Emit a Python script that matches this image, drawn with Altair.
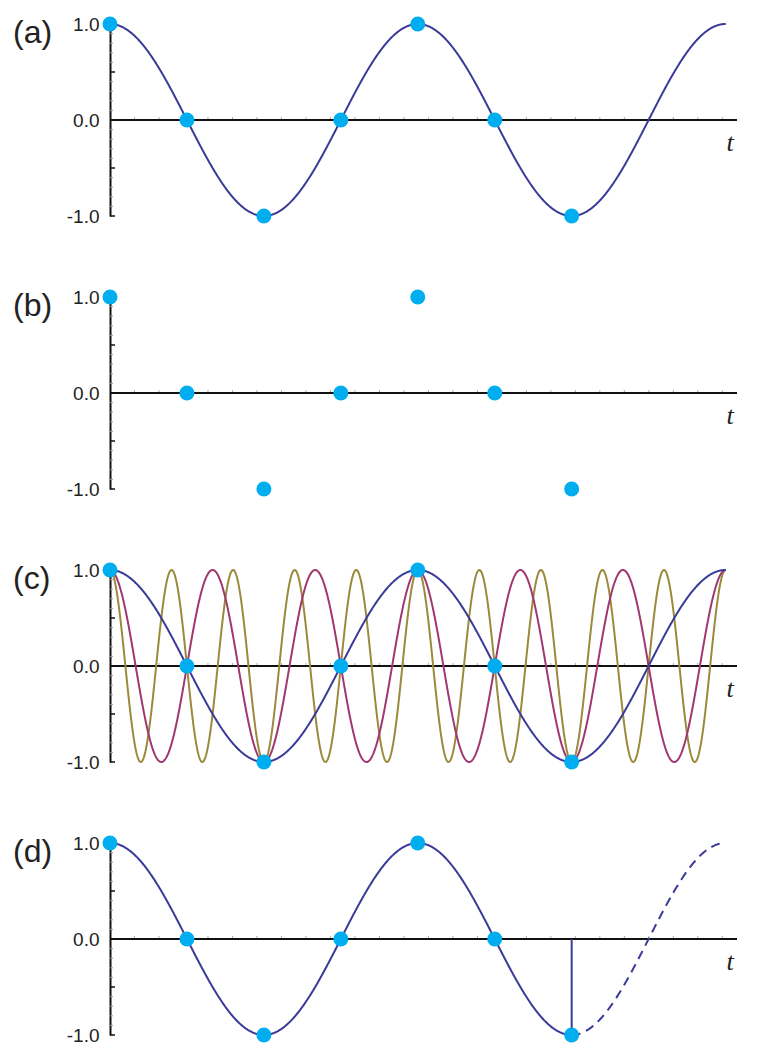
import math
import altair as alt
import pandas as pd

# ---------------- data ----------------
panel_labels = ["(a)", "(b)", "(c)", "(d)"]
sample_index = [0, 1, 2, 3, 4, 5, 6]
sample_value = [1.0, 0.0, -1.0, 0.0, 1.0, 0.0, -1.0]
sample_spacing = math.pi / 2          # radians between samples
curve_freqs = [1, 3, 5]               # original + two aliases
curve_colors = ["#3a3a98", "#a0386f", "#9a8a3c"]
curve_end = 4 * math.pi               # curves span two periods
cut_index = 6                         # panel (d): reconstruction stops here
x_axis_end = 12.8
y_label_values = [-1.0, 0.0, 1.0]
y_major_ticks = [-1.0, -0.5, 0.0, 0.5, 1.0]
y_minor_ticks = [-0.9, -0.8, -0.7, -0.6, -0.4, -0.3, -0.2, -0.1,
                 0.1, 0.2, 0.3, 0.4, 0.6, 0.7, 0.8, 0.9]
x_minor_ticks = [0.5 * k for k in range(1, 26)]

FONT = "Liberation Sans"
DOT = "#00aeef"
W, H = 627, 192

samples = pd.DataFrame({"x": [i * sample_spacing for i in sample_index],
                        "y": sample_value})

X = alt.X("x:Q", scale=alt.Scale(domain=[0, x_axis_end], nice=False, zero=False), axis=None)
Y = alt.Y("y:Q", scale=alt.Scale(domain=[-1, 1], nice=False, zero=False),
          axis=alt.Axis(values=y_label_values, ticks=False, grid=False, domain=True,
                        domainColor="#111", domainWidth=2, labelPadding=11,
                        labelFontSize=19, labelFont=FONT, labelColor="#222",
                        title=None,
                        labelExpr="datum.value < 0 ? '-' + format(-datum.value, '.1f') : format(datum.value, '.1f')"))


def axes_layers():
    xline = alt.Chart(pd.DataFrame({"x": [0.0], "x2": [x_axis_end], "y": [0.0]})).mark_rule(
        color="#111", strokeWidth=2).encode(x=X, x2="x2:Q", y=Y)
    xticks = alt.Chart(pd.DataFrame({"x": x_minor_ticks, "y": [0.0] * len(x_minor_ticks)})).mark_rule(
        color="#aaa", strokeWidth=1, yOffset=-3, y2Offset=-1).encode(x=X, y=Y, y2="y:Q")
    major = alt.Chart(pd.DataFrame({"y": y_major_ticks})).mark_rule(
        color="#111", strokeWidth=1.5).encode(x=alt.value(0), x2=alt.value(5), y=Y)
    minor = alt.Chart(pd.DataFrame({"y": y_minor_ticks})).mark_rule(
        color="#999", strokeWidth=1).encode(x=alt.value(0), x2=alt.value(3), y=Y)
    tlab = alt.Chart(pd.DataFrame({"x": [12.66], "y": [0.0], "t": ["t"]})).mark_text(
        font="Liberation Serif", fontStyle="italic", fontSize=26, color="#222",
        baseline="middle", align="center", dy=23).encode(x=X, y=Y, text="t:N")
    return [xline, xticks, major, minor, tlab]


def curve(freq, color, start=0.0, stop=curve_end, dash=None):
    kw = dict(color=color, strokeWidth=2, clip=False)
    if dash:
        kw["strokeDash"] = dash
    return alt.Chart(alt.sequence(start, stop + 0.005, 0.01, as_="x")).transform_calculate(
        y=f"cos({freq} * datum.x)").mark_line(**kw).encode(x=X, y=Y)


def dots():
    return alt.Chart(samples).mark_circle(size=225, color=DOT, opacity=1).encode(x=X, y=Y)


def label(text):
    return alt.Chart(pd.DataFrame({"lab": [text]})).mark_text(
        align="left", baseline="alphabetic", fontSize=32, font=FONT, color="#222").encode(
        x=alt.value(-97), y=alt.value(19), text="lab:N")


def panel(text, layers):
    return alt.layer(*axes_layers(), *layers, dots(), label(text)).properties(width=W, height=H)


pa = panel(panel_labels[0], [curve(curve_freqs[0], curve_colors[0])])
pb = panel(panel_labels[1], [])
pc = panel(panel_labels[2], [curve(curve_freqs[2], curve_colors[2]),
                             curve(curve_freqs[1], curve_colors[1]),
                             curve(curve_freqs[0], curve_colors[0])])
cut_x = cut_index * sample_spacing
vline = alt.Chart(pd.DataFrame({"x": [cut_x], "y": [0.0], "y2": [sample_value[cut_index]]})).mark_rule(
    color=curve_colors[0], strokeWidth=2).encode(x=X, y=Y, y2="y2:Q")
pd_ = panel(panel_labels[3], [curve(curve_freqs[0], curve_colors[0], 0.0, cut_x),
                              curve(curve_freqs[0], curve_colors[0], cut_x, curve_end, dash=[9, 6]),
                              vline])

chart = alt.vconcat(pa, pb, pc, pd_, spacing=81, bounds="flush").properties(
    padding={"left": 5, "top": 7, "right": 5, "bottom": 5}
).configure_view(stroke=None)

chart.save("out.html", embed_options={"renderer": "svg", "actions": False})
